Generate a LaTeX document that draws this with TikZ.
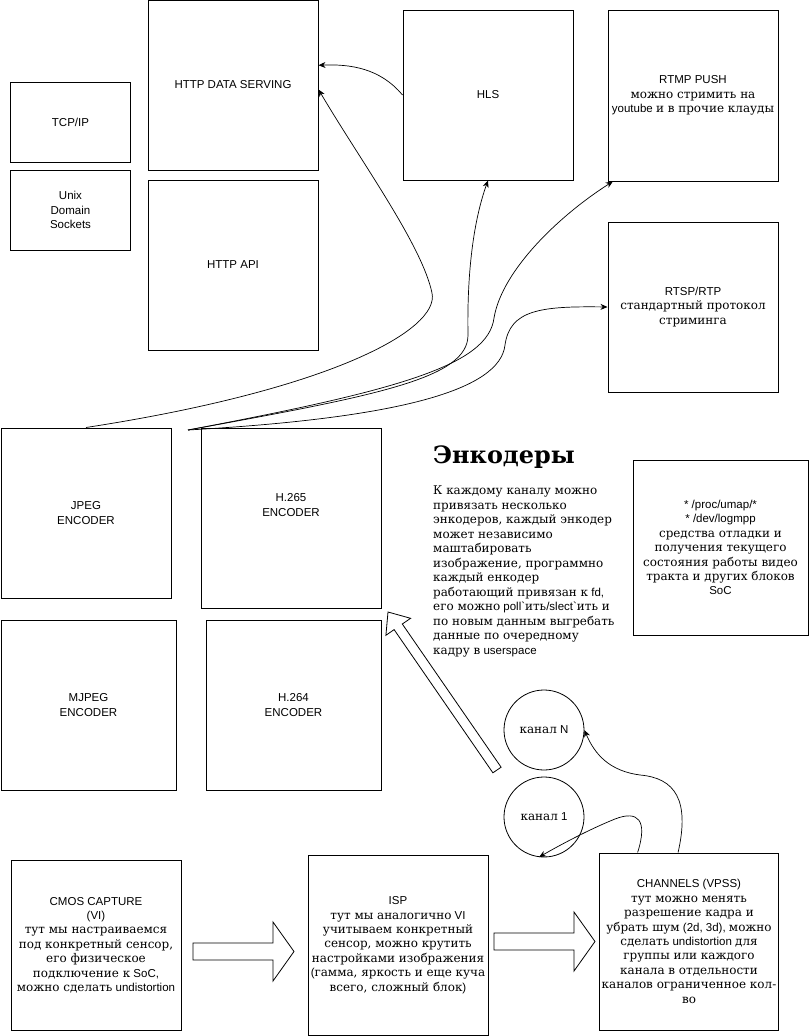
\documentclass[tikz,border=0pt]{standalone}
\usepackage{fontspec}
\setmainfont{Liberation Sans}[Ligatures=TeXOff]
\newfontfamily\rufont{DejaVu Serif}[Scale=1.04]
\newcommand\rus[1]{{\rufont #1}}
\usetikzlibrary{arrows.meta}

\begin{document}
\begin{tikzpicture}[x=1pt, y=-1pt,
    >={Stealth[length=7pt, width=6pt]},
    box/.style={draw, line width=1pt, align=center, inner sep=2pt,
      minimum width=170, minimum height=170, font=\fontsize{11.5}{14.4}\selectfont},
    chan/.style={circle, draw, line width=0.8pt, minimum size=80, inner sep=0,
      font=\fontsize{11.5}{14.4}\selectfont},
    note/.style={align=left, inner sep=0, anchor=north west,
      font=\fontsize{11.5}{14.5}\selectfont},
    conn/.style={->, line width=0.7pt}]
  \useasboundingbox (0,0) rectangle (809,1036);

  % transport and servers
  \node[box] (http) at (233,85) {HTTP DATA SERVING};
  \node[box] (api) at (233,265) {HTTP API};
  \node[box, minimum width=120, minimum height=80] (tcp) at (70.5,122) {TCP/IP};
  \node[box, minimum width=120, minimum height=80] (unix) at (70.5,210) {Unix\\Domain\\Sockets};
  \node[box] (hls) at (488,95) {HLS};
  \node[box, minimum height=171] (rtmp) at (693,95.5)
    {RTMP PUSH\\\rus{можно стримить на}\\youtube \rus{и в прочие клауды}};
  \node[box] (rtsp) at (693,307) {RTSP/RTP\\\rus{стандартный протокол}\\\rus{стриминга}};

  % encoders
  \node[box] (jpeg) at (86,513) {JPEG\\ENCODER};
  \node[box, minimum width=180, minimum height=180] (hevc) at (291,518) {};
  \node[font=\fontsize{11.5}{14.4}\selectfont, align=center] at (291,505) {H.265\\ENCODER};
  \node[box, minimum width=175] (mjpeg) at (88.5,705) {MJPEG\\ENCODER};
  \node[box, minimum width=175] (avc) at (293.5,705) {H.264\\ENCODER};

  \node[anchor=base west, inner sep=0, font=\rufont\bfseries\fontsize{23}{28}\selectfont]
    (title) at (433,463) {Энкодеры};
  \node[note] (desc) at (433,486) {\rus{К каждому каналу можно}\\
    \rus{привязать несколько}\\
    \rus{энкодеров, каждый энкодер}\\
    \rus{может независимо}\\
    \rus{маштабировать}\\
    \rus{изображение, программно}\\
    \rus{каждый енкодер}\\
    \rus{работающий привязан к} fd,\\
    \rus{его можно} poll`\rus{ить}/slect`\rus{ить и}\\
    \rus{по новым данным выгребать}\\
    \rus{данные по очередному}\\
    \rus{кадру в} userspace};

  \node[box, minimum width=175, minimum height=175] (dbg) at (720.5,547.5)
    {* /proc/umap/*\\* /dev/logmpp\\\rus{средства отладки и}\\\rus{получения текущего}\\
     \rus{состояния работы видео}\\\rus{тракта и других блоков}\\SoC};

  % channels
  \node[chan] (chN) at (544,730) {\rus{канал} N};
  \node[chan] (ch1) at (544,817) {\rus{канал} 1};

  % pipeline
  \node[box] (cmos) at (96,945) {CMOS CAPTURE\\(VI)\\\rus{тут мы настраиваемся}\\
    \rus{под конкретный сенсор,}\\\rus{его физическое}\\\rus{подключение к} SoC,\\
    \rus{можно сделать} undistortion};
  \node[box, minimum width=180, minimum height=180] (isp) at (398,945)
    {ISP\\\rus{тут мы аналогично} VI\\\rus{учитываем конкретный}\\\rus{сенсор, можно крутить}\\
     \rus{настройками изображения}\\(\rus{гамма, яркость и еще куча}\\\rus{всего, сложный блок})};
  \node[box, minimum width=178, minimum height=177] (vpss) at (689,941.5)
    {CHANNELS (VPSS)\\\rus{тут можно менять}\\\rus{разрешение кадра и}\\
     \rus{убрать шум} (2d, 3d), \rus{можно}\\\rus{сделать} undistortion \rus{для}\\
     \rus{группы или каждого}\\\rus{канала в отдельности}\\\rus{каналов ограниченное кол-}\\\rus{во}};

  % block arrows
  \foreach \x/\y in {193/951.5, 494/941.5}
    \draw[line width=0.8pt, shift={(\x,\y)}] (0,-8.5) -- (80,-8.5) -- (80,-29.5)
      -- (101,0) -- (80,29.5) -- (80,8.5) -- (0,8.5) -- cycle;
  \draw[line width=0.8pt] (501.1,767.2) -- (402.3,624.0) -- (410.6,618.3) -- (388,612)
    -- (385.9,635.3) -- (394.1,629.6) -- (492.9,772.8) -- cycle;

  % connectors
  \coordinate (fork) at (188,430);
  \draw[conn] (hls.west) .. controls (380,68) and (350,64) .. (http.13);
  \draw[conn] (jpeg.north) .. controls (330,390) and (440,330) .. (432,293)
    .. controls (422,245) and (360,160) .. (http.-3);
  \draw[conn] (fork) .. controls (380,395) and (468,378) .. (468,335)
    .. controls (467,280) and (472,225) .. (hls.south);
  \draw[conn] (fork) .. controls (400,390) and (488,365) .. (494,318)
    .. controls (502,270) and (560,215) .. (rtmp.-133);
  \draw[conn] (fork) .. controls (400,418) and (500,390) .. (505,345)
    .. controls (510,310) and (540,306) .. (rtsp.west);
  \draw[conn] (vpss.97) .. controls (690,800) and (675,778) .. (640,775)
    .. controls (610,771) and (595,755) .. (chN.east);
  \draw[conn] (vpss.120) .. controls (648,820) and (638,810) .. (615,819)
    .. controls (590,829) and (560,845) .. (ch1.-97);
\end{tikzpicture}
\end{document}
